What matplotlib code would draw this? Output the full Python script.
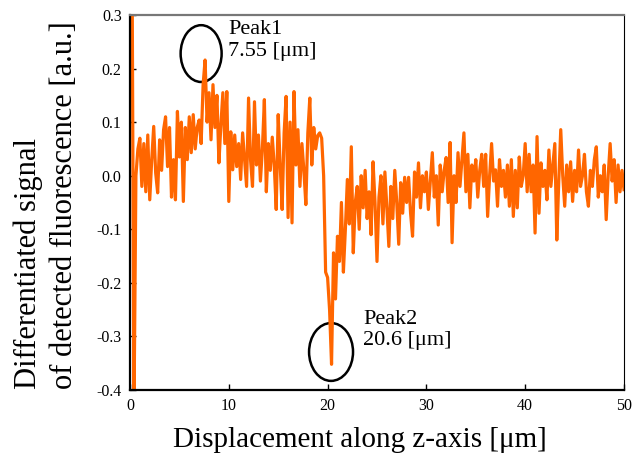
import numpy as np
import matplotlib
matplotlib.use("Agg")
import matplotlib.pyplot as plt
from matplotlib.patches import Ellipse
from matplotlib.ticker import FormatStrFormatter, MultipleLocator

plt.rcParams['font.family'] = ['Liberation Serif', 'DejaVu Serif']
plt.rcParams['axes.unicode_minus'] = False

# signal, one value every 0.2 um
signal = [
    0.30, 0.45, -0.45, 0.00, 0.05,
    0.07, -0.02, 0.06, -0.03, 0.076,
    -0.045, 0.03, 0.092, 0.005, -0.032,
    0.067, 0.01, 0.086, 0.11, 0.017,
    0.09, -0.04, 0.03, -0.045, 0.12,
    0.035, 0.10, -0.048, 0.09, 0.03,
    0.11, 0.043, 0.114, 0.05, 0.09,
    0.104, 0.06, 0.17, 0.216, 0.10,
    0.155, 0.067, 0.17, 0.09, 0.15,
    0.024, 0.095, 0.155, 0.06, 0.157,
    -0.048, 0.082, 0.011, 0.076, 0.017,
    0.06, -0.007, 0.08, 0.03, -0.02,
    0.145, 0.03, -0.02, 0.138, 0.02,
    0.076, -0.01, 0.05, 0.142, -0.03,
    0.06, 0.01, 0.072, 0.02, -0.063,
    0.114, 0.02, -0.063, 0.08, 0.148,
    -0.078, 0.10, -0.088, 0.157, 0.02,
    0.086, -0.02, 0.06, 0.01, -0.054,
    0.08, 0.145, 0.02, 0.09, 0.05,
    0.075, 0.08, 0.07, 0.0, -0.18,
    -0.19, -0.25, -0.352, -0.144, -0.23,
    -0.113, -0.16, -0.05, -0.18, -0.10,
    -0.007, -0.09, 0.054, -0.144, -0.05,
    -0.02, -0.10, 0.0, -0.06, 0.01,
    -0.08, -0.03, -0.11, 0.026, -0.05,
    -0.16, -0.04, 0.0, -0.09, 0.007,
    -0.06, -0.132, -0.02, -0.08, 0.01,
    -0.05, -0.128, -0.013, -0.07, -0.003,
    -0.05, -0.003, -0.07, -0.113, 0.007,
    -0.04, 0.024, -0.06, 0.0, -0.03,
    0.007, -0.063, -0.01, 0.043, -0.04,
    0.0, -0.092, 0.02, -0.03, 0.01,
    0.034, -0.05, 0.062, -0.125, 0.0,
    -0.05, 0.043, -0.02, 0.03, 0.08,
    -0.03, 0.04, -0.06, 0.02, -0.01,
    0.03, -0.04, 0.01, 0.04, -0.02,
    0.04, -0.076, 0.0, 0.06, -0.01,
    0.011, -0.057, 0.03, -0.02, 0.01,
    -0.04, 0.02, -0.057, 0.03, -0.076,
    0.01, -0.06, 0.035, -0.02, 0.0,
    0.06, -0.03, 0.04, -0.03, 0.02,
    -0.107, 0.073, -0.07, 0.024, -0.02,
    0.01, -0.045, 0.048, -0.02, 0.02,
    0.06, -0.12, -0.01, 0.086, 0.0,
    -0.057, 0.02, -0.03, 0.026, -0.048,
    0.01, -0.03, 0.048, -0.02, 0.0,
    0.04, -0.03, -0.057, 0.01, -0.02,
    0.03, 0.054, -0.04, 0.0, -0.03,
    0.02, -0.082, 0.0, 0.06, -0.01,
    0.03, -0.05, 0.02, -0.03, 0.01,
    -0.026,
]
z = np.arange(len(signal)) * 0.2

peak_labels = ["Peak1\n7.55 [\u03bcm]", "Peak2\n20.6 [\u03bcm]"]

fig = plt.figure(figsize=(6.36, 4.66), dpi=100)
ax = fig.add_axes([0.2044, 0.1631, 0.7767, 0.8047])

ax.plot(z, signal, color='#ff6600', lw=2.3, solid_joinstyle='round')

ax.set_xlim(0, 50)
ax.set_ylim(-0.4, 0.3)
ax.xaxis.set_major_locator(MultipleLocator(10))
ax.yaxis.set_major_locator(MultipleLocator(0.1))
ax.yaxis.set_major_formatter(FormatStrFormatter('%.1f'))
ax.tick_params(direction='in', length=4, width=1, labelsize=11.5, pad=6,
               top=False, right=False)

for s in ['left', 'bottom']:
    ax.spines[s].set_linewidth(1.6)
    ax.spines[s].set_color('black')
ax.spines['top'].set_color('#777777')
ax.spines['top'].set_linewidth(1.6)
ax.spines['right'].set_linewidth(0.8)

# circles around the peaks
ax.add_patch(Ellipse((7.2, 0.228), 4.15, 0.106, fill=False, ec='black', lw=1.8))
ax.add_patch(Ellipse((20.35, -0.329), 4.45, 0.108, fill=False, ec='black', lw=1.8))
ax.text(9.92, 0.291, peak_labels[0], fontsize=16, va='top', ha='left')
ax.text(23.6, -0.250, peak_labels[1], fontsize=16, va='top', ha='left')

fig.text(360 / 636, 1 - 440 / 466, "Displacement along z-axis [\u03bcm]",
         fontsize=21, ha='center', va='center')
fig.text(46 / 636, 1 - 389 / 466,
         "Differentiated signal\nof detected fluorescence [a.u.]",
         fontsize=22, rotation=90, ha='center', va='bottom',
         multialignment='left', linespacing=1.3)

fig.savefig("out.png", dpi=100)
